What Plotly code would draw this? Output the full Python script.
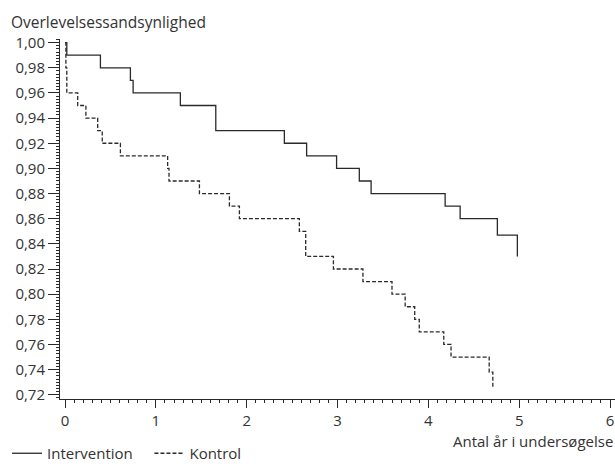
import plotly.graph_objects as go

# Intervention (solid) Kaplan-Meier steps
int_t = [0.0, 0.02, 0.39, 0.72, 0.75, 1.27, 1.66, 2.415, 2.66, 2.99, 3.24, 3.37, 4.185, 4.35, 4.76, 4.98]
int_s = [1.00, 0.99, 0.98, 0.97, 0.96, 0.95, 0.93, 0.92, 0.91, 0.90, 0.89, 0.88, 0.87, 0.86, 0.847, 0.83]

# Kontrol (dashed) Kaplan-Meier steps
kon_t = [0.0, 0.01, 0.02, 0.14, 0.23, 0.36, 0.41, 0.61, 1.13, 1.145, 1.48, 1.81, 1.92, 2.58, 2.65,
         2.955, 3.28, 3.6, 3.745, 3.85, 3.90, 4.17, 4.25, 4.67, 4.71]
kon_s = [1.00, 0.98, 0.96, 0.95, 0.94, 0.93, 0.92, 0.91, 0.90, 0.89, 0.88, 0.87, 0.86, 0.85, 0.83,
         0.82, 0.81, 0.80, 0.79, 0.78, 0.77, 0.76, 0.75, 0.738, 0.725]

y_ticks = [0.72, 0.74, 0.76, 0.78, 0.80, 0.82, 0.84, 0.86, 0.88, 0.90, 0.92, 0.94, 0.96, 0.98, 1.00]
y_labels = [f"{v:.2f}".replace(".", ",") for v in y_ticks]
x_ticks = [0, 1, 2, 3, 4, 5, 6]

FONT = "Open Sans"
TXT = "#333333"
LINE = "#2a2a2a"
Y_RANGE = [0.71664, 1.00289]

fig = go.Figure()
fig.add_trace(go.Scatter(x=int_t, y=int_s, mode="lines", line_shape="hv",
                         line=dict(color=LINE, width=1.3), name="Intervention\u00a0\u00a0\u00a0"))
fig.add_trace(go.Scatter(x=kon_t, y=kon_s, mode="lines", line_shape="hv",
                         line=dict(color=LINE, width=1.3, dash="4px,2px"), name="Kontrol"))

W, H = 615, 470
L, R, T, B = 60, 0, 39, 64
pw, ph = W - L - R, H - T - B

def px_x(x):
    return (x - L) / pw

def px_y(y):
    return (H - B - y) / ph

fig.update_layout(
    width=W, height=H,
    margin=dict(l=L, r=R, t=T, b=B),
    paper_bgcolor="white", plot_bgcolor="white",
    font=dict(family=FONT, size=15, color=TXT),
    showlegend=True,
    legend=dict(orientation="h", x=px_x(7), y=px_y(462), xanchor="left", yanchor="middle",
                font=dict(family=FONT, size=15, color=TXT), bgcolor="rgba(0,0,0,0)",
                itemwidth=30, tracegroupgap=0),
    xaxis=dict(range=[-0.055, 6.055], tickmode="array", tickvals=x_ticks,
               ticks="outside", ticklen=8, tickwidth=1, tickcolor=LINE,
               showline=True, linecolor=LINE, linewidth=1, showgrid=False, zeroline=False,
               tickfont=dict(size=15, color=TXT),
               minor=dict(dtick=0.1, ticks="outside", ticklen=3, tickcolor=LINE, showgrid=False)),
    yaxis=dict(range=Y_RANGE, tickmode="array", tickvals=y_ticks, ticktext=y_labels,
               ticks="outside", ticklen=11, tickwidth=1, tickcolor=LINE,
               showline=True, linecolor=LINE, linewidth=1, showgrid=False, zeroline=False,
               tickfont=dict(size=15, color=TXT),
               minor=dict(dtick=0.0025, tick0=0.72, ticks="outside", ticklen=3, tickcolor=LINE, showgrid=False)),
    yaxis2=dict(range=Y_RANGE, overlaying="y", anchor="x", side="left", matches="y",
                showticklabels=False, ticks="", showline=False, showgrid=False, zeroline=False,
                tickmode="array", tickvals=y_ticks,
                minor=dict(dtick=0.0025, tick0=0.72, ticks="inside", ticklen=2, tickcolor=LINE, showgrid=False)),
    annotations=[
        dict(text="Overlevelsessandsynlighed", xref="paper", yref="paper",
             x=px_x(9), y=px_y(22), xanchor="left", yanchor="middle", showarrow=False,
             font=dict(family=FONT, size=15.5, color=TXT)),
        dict(text="Antal år i undersøgelse", xref="paper", yref="paper",
             x=1, y=px_y(449), xanchor="right", yanchor="middle", showarrow=False,
             font=dict(family=FONT, size=15, color=TXT)),
    ],
)

fig.write_html("out.html", config={"displayModeBar": False},
               post_script="document.body.style.margin='0';document.body.style.overflow='hidden';")
